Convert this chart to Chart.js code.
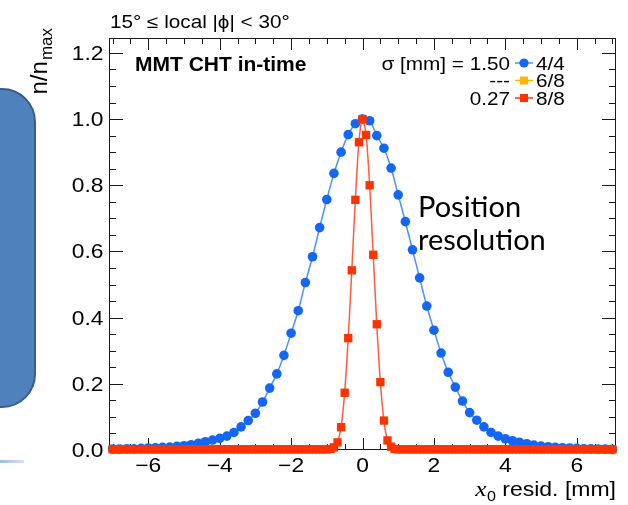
<!DOCTYPE html>
<html>
<head>
<meta charset="utf-8">
<script src="https://cdn.jsdelivr.net/npm/chart.js@4.4.0/dist/chart.umd.min.js"></script>
<style>
    html, body { margin: 0; padding: 0; background: #fff; }
    #slide { position: relative; width: 628px; height: 505px; overflow: hidden; }
    #slide canvas { position: absolute; left: 0; top: 0; }
    .side-box {
        position: absolute; left: -40px; top: 88px; width: 76px; height: 320px;
        box-sizing: border-box; background: #4f81bd; border: 2px solid #385d8a; border-radius: 34px;
    }
    .side-rule {
        position: absolute; left: 0; top: 460px; width: 24px; height: 3px;
        background: linear-gradient(to right, #9fbde3, #d6e3f3);
    }
    .note {
        position: absolute; left: 418px; top: 189px;
        font: 29px Lato, "Open Sans", sans-serif; line-height: 33px; color: #000;
    }
</style>
</head>
<body>
<div id="slide">
    <div class="side-box"></div>
    <div class="side-rule"></div>
    <canvas id="chart" width="628" height="505"></canvas>
    <div class="note">Position<br>resolution</div>
</div>
<script>
// binning of the two histograms (bin centres, mm)
const blueStart = -7.0;
const blueStep = 0.2;
const redStart = -7.0;
const redStep = 0.1;

// 4/4 hits, sigma 1.50 mm  (n/n_max per 0.2 mm bin, -7.0 ... 7.0)
const blueValues = [
    0.003, 0.003, 0.004, 0.004, 0.005, 0.006, 0.007, 0.008, 0.009, 0.011,
    0.013, 0.016, 0.020, 0.025, 0.030, 0.035, 0.042, 0.053, 0.070, 0.089,
    0.111, 0.145, 0.187, 0.230, 0.286, 0.353, 0.421, 0.506, 0.584, 0.672,
    0.757, 0.836, 0.900, 0.953, 0.986, 1.000, 0.995, 0.950, 0.912, 0.852,
    0.771, 0.690, 0.605, 0.520, 0.435, 0.362, 0.293, 0.235, 0.190, 0.148,
    0.113, 0.090, 0.070, 0.053, 0.042, 0.034, 0.028, 0.023, 0.019, 0.015,
    0.012, 0.010, 0.008, 0.007, 0.006, 0.005, 0.004, 0.004, 0.003, 0.003,
    0.002
];

// 8/8 hits, sigma 0.27 mm  (n/n_max per 0.1 mm bin, -7.0 ... 7.0)
const redValues = [
    0.002, 0.002, 0.002, 0.002, 0.002, 0.002, 0.002, 0.002, 0.002, 0.002,
    0.002, 0.002, 0.002, 0.002, 0.002, 0.002, 0.002, 0.002, 0.002, 0.002,
    0.002, 0.002, 0.002, 0.002, 0.002, 0.002, 0.002, 0.002, 0.002, 0.002,
    0.002, 0.002, 0.002, 0.002, 0.002, 0.002, 0.002, 0.002, 0.002, 0.002,
    0.002, 0.002, 0.002, 0.002, 0.002, 0.002, 0.002, 0.002, 0.002, 0.002,
    0.002, 0.002, 0.002, 0.002, 0.002, 0.002, 0.002, 0.002, 0.002, 0.002,
    0.002,
    0.003, 0.008, 0.023, 0.069, 0.173, 0.338, 0.543, 0.756, 0.930, 1.000,
    0.952, 0.800, 0.590, 0.380, 0.205, 0.089, 0.029, 0.010, 0.003,
    0.002, 0.002, 0.002, 0.002, 0.002, 0.002, 0.002, 0.002, 0.002, 0.002,
    0.002, 0.002, 0.002, 0.002, 0.002, 0.002, 0.002, 0.002, 0.002, 0.002,
    0.002, 0.002, 0.002, 0.002, 0.002, 0.002, 0.002, 0.002, 0.002, 0.002,
    0.002, 0.002, 0.002, 0.002, 0.002, 0.002, 0.002, 0.002, 0.002, 0.002,
    0.002, 0.002, 0.002, 0.002, 0.002, 0.002, 0.002, 0.002, 0.002, 0.002,
    0.002, 0.002, 0.002, 0.002, 0.002, 0.002, 0.002, 0.002, 0.002, 0.002,
    0.002
];

// axis ticks
const xMajorTicks = [-6, -4, -2, 0, 2, 4, 6];
const xTickLabels = ['\u22126', '\u22124', '\u22122', '0', '2', '4', '6'];
const xMinorTicks = [-7, -6.5, -5.5, -5, -4.5, -3.5, -3, -2.5, -1.5, -1, -0.5,
                     0.5, 1, 1.5, 2.5, 3, 3.5, 4.5, 5, 5.5, 6.5, 7];
const yMajorTicks = [0, 0.2, 0.4, 0.6, 0.8, 1.0, 1.2];
const yTickLabels = ['0.0', '0.2', '0.4', '0.6', '0.8', '1.0', '1.2'];
const yMinorTicks = [0.05, 0.1, 0.15, 0.25, 0.3, 0.35, 0.45, 0.5, 0.55, 0.65, 0.7, 0.75,
                     0.85, 0.9, 0.95, 1.05, 1.1, 1.15];

// legend rows: sigma text, marker, label
const legendSigma = ['\u03c3 [mm] = 1.50', '---', '0.27'];
const legendNames = ['4/4', '6/8', '8/8'];
const legendColors = ['#1466f5', '#ffb400', '#ff3300'];
const legendShapes = ['circle', 'rect', 'rect'];

const BLUE = '#1466f5';
const BLUE_LINE = '#4b93fa';
const RED = '#ff3300';
const RED_LINE = '#ff5c3d';
const SANS = '"Liberation Sans", Arial, Helvetica, sans-serif';

function toPoints(start, step, values) {
    return values.map((v, i) => ({ x: +(start + i * step).toFixed(2), y: v }));
}

// text with the horizontal stretch of the original image
function stretchText(ctx, str, x, y, font, align, sx) {
    ctx.save();
    ctx.font = font;
    const w = ctx.measureText(str).width * sx;
    const left = align === 'right' ? x - w : align === 'center' ? x - w / 2 : x;
    ctx.translate(left, y);
    ctx.scale(sx, 1);
    ctx.textAlign = 'left';
    ctx.textBaseline = 'alphabetic';
    ctx.fillText(str, 0, 0);
    ctx.restore();
    return w;
}

function drawMarker(ctx, shape, cx, cy, color) {
    ctx.fillStyle = color;
    if (shape === 'circle') {
        ctx.beginPath();
        ctx.arc(cx, cy, 4.6, 0, Math.PI * 2);
        ctx.fill();
    } else {
        ctx.fillRect(cx - 4, cy - 4, 8, 8);
    }
}

const rootFrame = {
    id: 'rootFrame',
    beforeDatasetsDraw(chart) {
        const { ctx, chartArea: a, scales: { x, y } } = chart;
        ctx.save();
        ctx.strokeStyle = '#1a1a1a';
        ctx.lineWidth = 1;
        ctx.strokeRect(a.left + 0.5, a.top + 0.5, a.right - a.left - 1, a.bottom - a.top - 1);

        ctx.beginPath();
        const xt = (v, len) => {
            const px = Math.round(x.getPixelForValue(v)) + 0.5;
            ctx.moveTo(px, a.bottom); ctx.lineTo(px, a.bottom - len);
            ctx.moveTo(px, a.top); ctx.lineTo(px, a.top + len);
        };
        const yt = (v, len) => {
            const py = Math.round(y.getPixelForValue(v)) + 0.5;
            ctx.moveTo(a.left, py); ctx.lineTo(a.left + len, py);
            ctx.moveTo(a.right, py); ctx.lineTo(a.right - len, py);
        };
        xMajorTicks.forEach(v => xt(v, 12));
        xMinorTicks.forEach(v => xt(v, 6));
        yMajorTicks.forEach(v => yt(v, 14));
        yMinorTicks.forEach(v => yt(v, 7));
        ctx.stroke();
        ctx.restore();
    },
    afterDraw(chart) {
        const { ctx, chartArea: a, scales: { x, y } } = chart;
        ctx.save();
        ctx.fillStyle = '#000';

        // tick labels
        const tickFont = '20px ' + SANS;
        yMajorTicks.forEach((v, i) => {
            stretchText(ctx, yTickLabels[i], 103.5, y.getPixelForValue(v) + 7, tickFont, 'right', 1.14);
        });
        xMajorTicks.forEach((v, i) => {
            stretchText(ctx, xTickLabels[i], x.getPixelForValue(v), 472, tickFont, 'center', 1.14);
        });

        // header
        stretchText(ctx, '15\u00b0 \u2264 local |\u03d5| < 30\u00b0', 110, 28,
            '18px ' + SANS + ', "DejaVu Sans"', 'left', 1.15);
        stretchText(ctx, 'MMT CHT in-time', 135, 70.5, 'bold 21px ' + SANS, 'left', 1.0);

        // legend
        const rowsY = [63, 80.5, 98];
        rowsY.forEach((ry, i) => {
            ctx.fillStyle = '#000';
            stretchText(ctx, legendSigma[i], 510, ry + 6.5, '18.5px ' + SANS, 'right', 1.12);
            stretchText(ctx, legendNames[i], 536, ry + 6.5, '18.5px ' + SANS, 'left', 1.12);
            ctx.strokeStyle = legendColors[i] === BLUE ? BLUE_LINE : legendColors[i];
            ctx.lineWidth = 1.5;
            ctx.beginPath();
            ctx.moveTo(515, ry); ctx.lineTo(533, ry);
            ctx.stroke();
            drawMarker(ctx, legendShapes[i], 524, ry, legendColors[i]);
        });

        // y title, rotated, flush with the top
        ctx.fillStyle = '#000';
        ctx.save();
        ctx.translate(47, 28);
        ctx.rotate(-Math.PI / 2);
        ctx.textAlign = 'right';
        ctx.font = '17px ' + SANS;
        ctx.fillText('max', 0, 5);
        const wMax = ctx.measureText('max').width;
        ctx.font = '24px ' + SANS;
        ctx.fillText('n/n', -wMax - 1, 0);
        ctx.restore();

        // x title, flush with the right
        const wRest = stretchText(ctx, ' resid. [mm]', a.right, 496, '20px ' + SANS, 'right', 1.15);
        const w0 = stretchText(ctx, '0', a.right - wRest, 501, '14px ' + SANS, 'right', 1.15);
        stretchText(ctx, 'x', a.right - wRest - w0 - 0.5, 496,
            'italic 22px "Liberation Serif", "Times New Roman", serif', 'right', 1.15);
        ctx.restore();
    }
};

new Chart(document.getElementById('chart'), {
    type: 'line',
    data: {
        datasets: [{
            label: '4/4',
            data: toPoints(blueStart, blueStep, blueValues),
            order: 1,
            borderColor: BLUE_LINE,
            borderWidth: 1.5,
            pointStyle: 'circle',
            pointRadius: 4.8,
            pointBorderWidth: 0,
            pointBackgroundColor: BLUE,
            pointBorderColor: BLUE,
            tension: 0.3,
            clip: false
        }, {
            label: '8/8',
            data: toPoints(redStart, redStep, redValues),
            order: 0,
            borderColor: RED_LINE,
            borderWidth: 1.5,
            pointStyle: 'rect',
            pointRadius: 5.9,
            pointBorderWidth: 0,
            pointBackgroundColor: RED,
            pointBorderColor: RED,
            tension: 0.3,
            clip: false
        }]
    },
    options: {
        responsive: false,
        animation: false,
        devicePixelRatio: 1,
        layout: { padding: { left: 109, right: 12, top: 38, bottom: 55 } },
        scales: {
            x: { type: 'linear', min: -7.1, max: 7.1, display: false },
            y: { type: 'linear', min: 0, max: 1.245, display: false }
        },
        plugins: {
            legend: { display: false },
            tooltip: { enabled: false }
        }
    },
    plugins: [rootFrame]
});
</script>
</body>
</html>
